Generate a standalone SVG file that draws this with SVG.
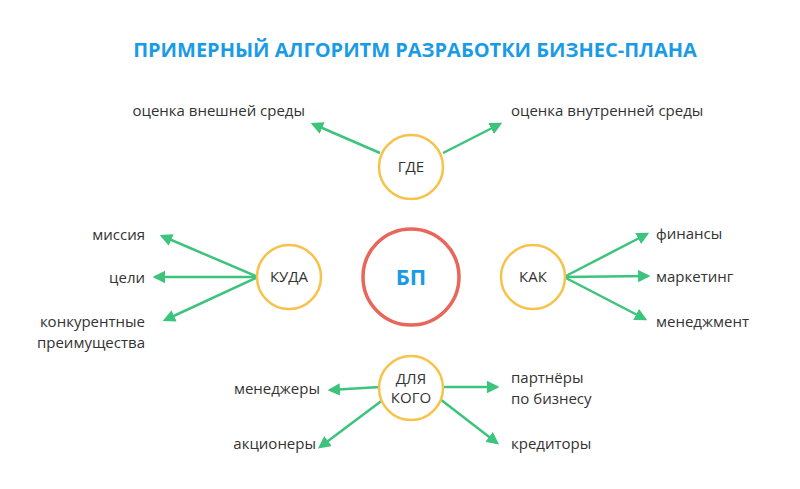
<svg xmlns="http://www.w3.org/2000/svg" width="800" height="489" viewBox="0 0 800 489">
<style>
text{font-family:"Open Sans","Liberation Sans",sans-serif;font-size:15px;fill:#333}
.t{font-size:20px;font-weight:bold;fill:#1a9be6}
.n{fill:#fff;stroke:#f7c24a;stroke-width:2.5}
.c{stroke:#3cc47c;stroke-width:2.5;fill:none;marker-end:url(#a)}
</style>
<defs><marker id="a" viewBox="0 0 10 10" refX="8" refY="5" markerWidth="5" markerHeight="5" orient="auto" markerUnits="strokeWidth"><path d="M0 0L10 5L0 10z" fill="#3cc47c"/></marker></defs>
<rect width="800" height="489" fill="#fff"/>
<text class="t" x="415" y="57" text-anchor="middle">ПРИМЕРНЫЙ АЛГОРИТМ РАЗРАБОТКИ БИЗНЕС-ПЛАНА</text>
<g id="connectors">
<path class="c" d="M380 153L313 124"/><path class="c" d="M443 153L500 124"/>
<path class="c" d="M258 277L162 236"/><path class="c" d="M258 277L155 277"/><path class="c" d="M258 277L165 320"/>
<path class="c" d="M564 277L647 234"/><path class="c" d="M564 277L648 276"/><path class="c" d="M564 277L645 319"/>
<path class="c" d="M380 387L330 390"/><path class="c" d="M384 399L320 447"/><path class="c" d="M442 387L497 387"/><path class="c" d="M440 399L497 443"/>
</g>
<g id="bp"><circle cx="411" cy="277" r="48" fill="#fff" stroke="#e8665a" stroke-width="3.5"/><text x="411" y="285" text-anchor="middle" style="font-size:22px;font-weight:bold;fill:#1a9be6">БП</text></g>
<g id="gde"><circle class="n" cx="411" cy="167" r="32"/><text x="411" y="172" text-anchor="middle">ГДЕ</text></g>
<g id="kuda"><circle class="n" cx="289" cy="277" r="32"/><text x="289" y="282" text-anchor="middle">КУДА</text></g>
<g id="kak"><circle class="n" cx="533" cy="277" r="32"/><text x="533" y="282" text-anchor="middle">КАК</text></g>
<g id="dlyakogo"><circle class="n" cx="411" cy="388" r="32"/><text x="411" y="384" text-anchor="middle">ДЛЯ</text><text x="411" y="403" text-anchor="middle">КОГО</text></g>
<g id="labels">
<text x="305" y="116" text-anchor="end">оценка внешней среды</text>
<text x="511" y="116">оценка внутренней среды</text>
<text x="145" y="240" text-anchor="end">миссия</text>
<text x="145" y="283" text-anchor="end">цели</text>
<text x="145" y="327" text-anchor="end">конкурентные</text>
<text x="145" y="348" text-anchor="end">преимущества</text>
<text x="656" y="239">финансы</text>
<text x="656" y="282">маркетинг</text>
<text x="656" y="327">менеджмент</text>
<text x="320" y="394" text-anchor="end">менеджеры</text>
<text x="316" y="449" text-anchor="end">акционеры</text>
<text x="511" y="383">партнёры</text>
<text x="511" y="404">по бизнесу</text>
<text x="511" y="449">кредиторы</text>
</g>
</svg>
